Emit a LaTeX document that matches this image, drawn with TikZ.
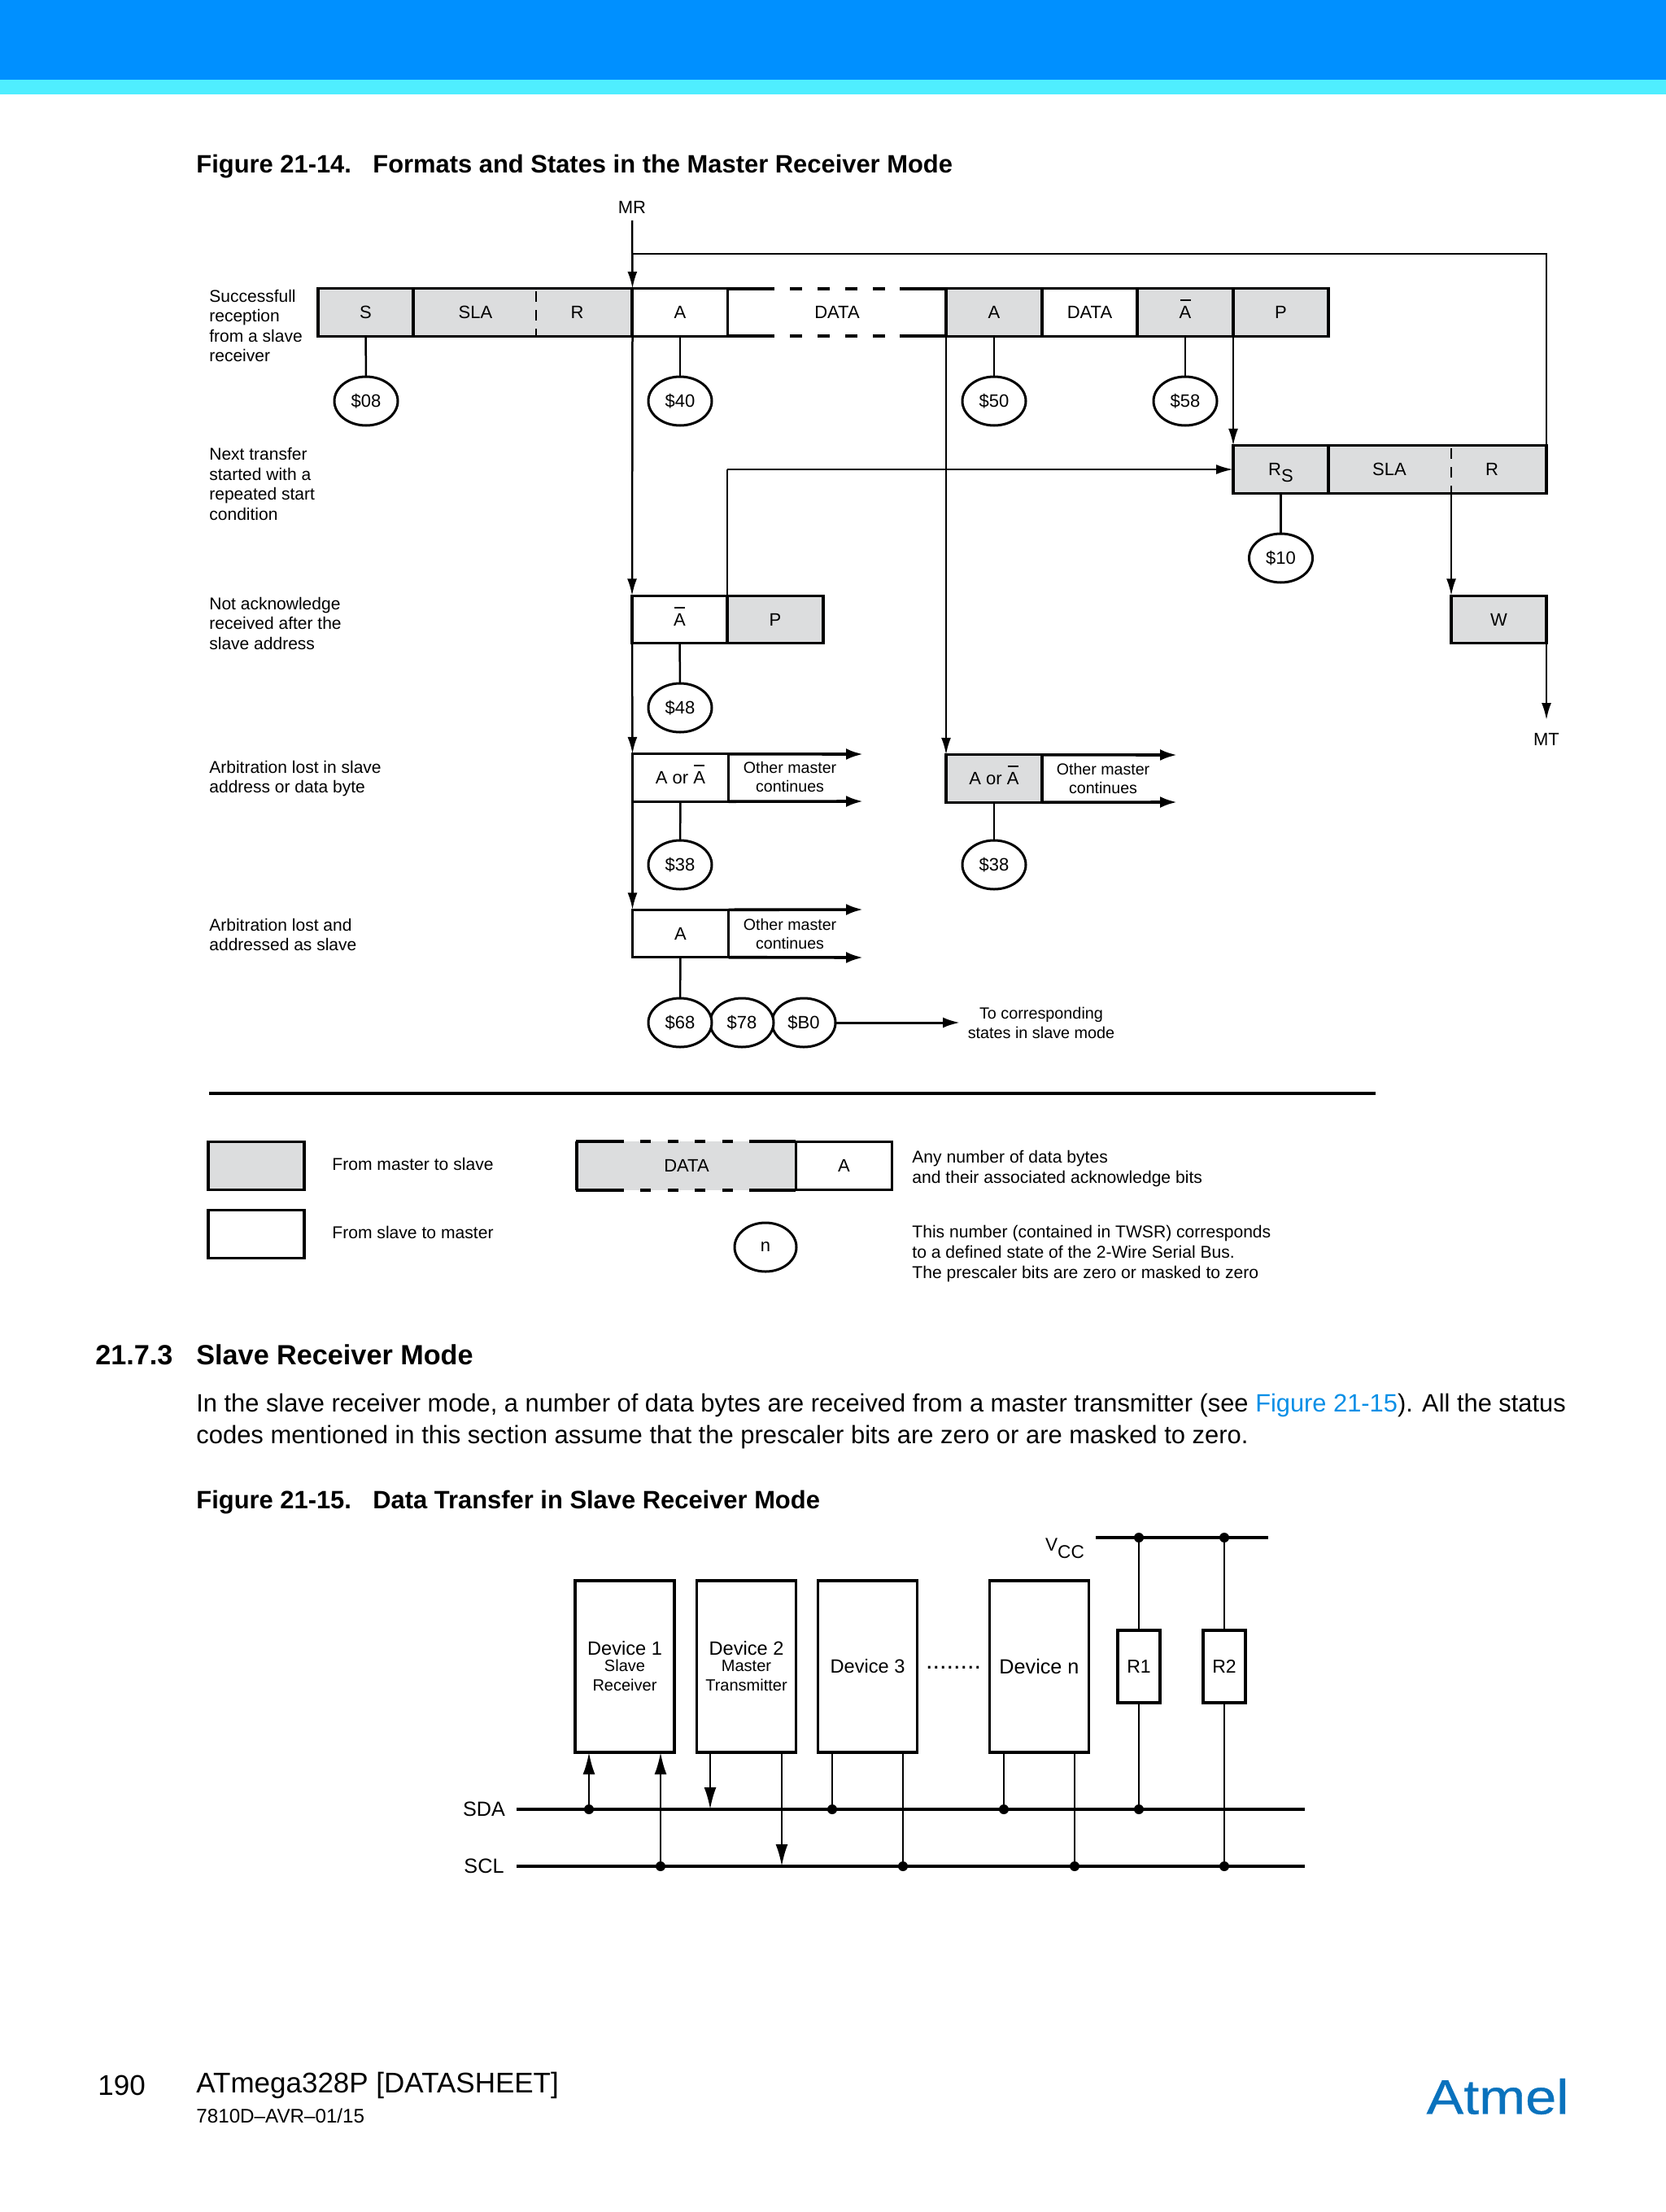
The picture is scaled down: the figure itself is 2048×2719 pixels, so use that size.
\documentclass[tikz,border=0pt]{standalone}
\usepackage{fontspec}
\setmainfont{Liberation Sans}
\newfontfamily\logofont[FakeStretch=1.14,FakeBold=0.6]{Liberation Sans}
\usepackage{tikz}
\usetikzlibrary{arrows.meta,positioning,shapes.geometric}
\definecolor{cellgray}{HTML}{DCDDDE}
\definecolor{bandblue}{HTML}{0090FF}
\definecolor{bandcyan}{HTML}{4FEEFF}
\definecolor{linkblue}{HTML}{0A8FE6}
\definecolor{logoblue}{HTML}{0A72BD}
\newcommand{\abar}{\makebox[0pt][l]{\hspace{.04em}\smash{\rule[.98em]{.6em}{.09em}}}A}
\newcommand{\lowsub}[1]{\smash{\raisebox{-.38em}{#1}}}
\tikzset{
  boxfont/.style={font=\fontsize{11}{13}\selectfont},
  mastercell/.style={draw,fill=cellgray,line width=1.6pt,outer sep=0pt,inner sep=0pt,
    minimum width=#1,minimum height=29.2pt,boxfont},
  slavecell/.style={draw,fill=white,line width=1.6pt,outer sep=0pt,inner sep=0pt,
    minimum width=#1,minimum height=29.2pt,boxfont},
  plaincell/.style={inner sep=0pt,boxfont},
  statebubble/.style={ellipse,draw,fill=white,line width=1.5pt,outer sep=0pt,inner sep=0pt,
    minimum width=39pt,minimum height=30pt,boxfont},
  sidenote/.style={anchor=west,align=left,inner sep=0pt,font=\fontsize{10.5}{12.25}\selectfont},
  othernote/.style={align=center,inner sep=0pt,font=\fontsize{9.8}{11.9}\selectfont},
  conn/.style={line width=1.25pt},
  flow/.style={conn,-{Latex[length=10.5pt,width=6pt]}},
  busflow/.style={conn,-{Latex[length=13.5pt,width=7.5pt]}},
  edgearrow/.style={line width=1.8pt,-{Latex[length=10.5pt,width=7pt]}},
  heavyline/.style={line width=1.8pt},
  devicebox/.style={draw,fill=white,line width=1.6pt,outer sep=0pt,inner sep=0pt,
    minimum width=61pt,minimum height=105.5pt,align=center},
  resbox/.style={draw,fill=white,line width=1.6pt,outer sep=0pt,inner sep=0pt,
    minimum width=26pt,minimum height=44.5pt,font=\fontsize{11.5}{13}\selectfont},
  busdot/.style={circle,fill=black,inner sep=0pt,minimum size=6pt},
  busline/.style={line width=1.6pt},
  pagehead/.style={anchor=base west,inner sep=0pt,font=\fontsize{15.45}{18}\bfseries\selectfont},
  sechead/.style={anchor=base west,inner sep=0pt,font=\fontsize{17.1}{20}\bfseries\selectfont},
  bodytext/.style={anchor=base west,inner sep=0pt,font=\fontsize{15.47}{19}\selectfont},
}
\begin{document}
\begin{tikzpicture}[x=0.5pt,y=-0.5pt]
\useasboundingbox (0,0) rectangle (2048,2719);
%draw page bands
\fill [bandblue] (0,0) rectangle (2048,98);
\fill [bandcyan] (0,98) rectangle (2048,116);
%draw page texts
\draw (241,212) node[pagehead] (capA) {Figure 21-14.};
\draw (458,212) node[pagehead] (capAtext) {Formats and States in the Master Receiver Mode};
\draw (117,1677) node[sechead] (secnum) {21.7.3};
\draw (241,1677) node[sechead] (sectitle) {Slave Receiver Mode};
\draw (241,1735) node[bodytext,font=\fontsize{15.41}{19}\selectfont] (paraA)
  {In the slave receiver mode, a number of data bytes are received from a master transmitter (see \textcolor{linkblue}{Figure 21-15}). All the status};
\draw (241,1774) node[bodytext] (paraB)
  {codes mentioned in this section assume that the prescaler bits are zero or are masked to zero.};
\draw (241,1854) node[pagehead] (capB) {Figure 21-15.};
\draw (458,1854) node[pagehead] (capBtext) {Data Transfer in Slave Receiver Mode};
\draw (120,2563) node[anchor=west,inner sep=0pt,font=\fontsize{17.5}{20}\selectfont] (pagenum) {190};
\draw (241,2563) node[anchor=west,inner sep=0pt,font=\fontsize{17.5}{20}\selectfont] (pagename) {ATmega328P [DATASHEET]};
\draw (241,2601) node[anchor=west,inner sep=0pt,font=\fontsize{12.1}{15}\selectfont] (docnum) {7810D–AVR–01/15};
\draw (1841,2577) node[inner sep=0pt,text=logoblue,font=\logofont\fontsize{30}{36}\selectfont] (logo) {Atmel};
%draw left notes
\draw (257,400.5) node[sidenote] (noteA) {Successfull\\reception\\from a slave\\receiver};
\draw (257,595) node[sidenote] (noteB) {Next transfer\\started with a\\repeated start\\condition};
\draw (257,766) node[sidenote] (noteC) {Not acknowledge\\received after the\\slave address};
\draw (257,957) node[sidenote] (noteD) {Arbitration lost in slave\\address or data byte};
\draw (257,1149) node[sidenote] (noteE) {Arbitration lost and\\addressed as slave};
%draw first row
\draw (449.5,384) node[mastercell=58.5pt] (cellS) {S};
\draw (642.5,384) node[mastercell=134.5pt] (cellSLAR) {};
\draw (584.5,384) node[plaincell] (txtSLA) {SLA};
\draw (709.5,384) node[plaincell] (txtR) {R};
\draw (836,384) node[slavecell=58.5pt] (cellA) {A};
\draw (1029,384) node[plaincell] (txtData) {DATA};
\draw (1222,384) node[mastercell=59pt] (cellAB) {A};
\draw (1339.5,384) node[slavecell=58.5pt] (cellDataB) {DATA};
\draw (1457,384) node[mastercell=59pt] (cellNack) {\abar};
\draw (1574.5,384) node[mastercell=58.5pt] (cellP) {P};
%open data field
\draw [heavyline] (894,355) -- (952,355) (894,413) -- (952,413);
\draw [heavyline] (1106,355) -- (1163,355) (1106,413) -- (1163,413);
\foreach \x in {971, 1005, 1039, 1073}{
   \draw [heavyline] (\x,355) -- (\x+15,355) (\x,413) -- (\x+15,413);
}
%draw second row
\draw (1574.5,577) node[mastercell=58.5pt] (cellRs) {R\lowsub{S}};
\draw (1767,577) node[mastercell=134pt] (cellSLARb) {};
\draw (1708,577) node[plaincell] (txtSLAb) {SLA};
\draw (1834,577) node[plaincell] (txtRb) {R};
\draw (835.5,761.5) node[slavecell=58.5pt] (cellNackB) {\abar};
\draw (953,761.5) node[mastercell=59pt] (cellPb) {P};
\draw (1842.5,761.5) node[mastercell=58.5pt] (cellW) {W};
%dashed splits
\draw [line width=1.3pt,dash pattern=on 6.5pt off 5pt,dash phase=-1pt] (659,356) -- (659,412);
\draw [line width=1.3pt,dash pattern=on 6.5pt off 5pt,dash phase=-1pt] (1784,549) -- (1784,605);
%draw arbitration rows
\draw (836.5,956) node[slavecell=59pt,minimum height=29.2pt] (cellLostA) {A or \abar};
\draw (1222,957) node[mastercell=59pt] (cellLostB) {A or \abar};
\draw (836.5,1147.5) node[slavecell=59pt] (cellLostC) {A};
\draw (971,955) node[othernote] (otherA) {Other master\\continues};
\draw (1356,957) node[othernote] (otherB) {Other master\\continues};
\draw (971,1148) node[othernote] (otherC) {Other master\\continues};
\coordinate (lostAtop) at (1061,927);
\coordinate (lostAbot) at (1061,985);
\draw [edgearrow] (cellLostA.north east) -- (lostAtop);
\draw [edgearrow] (cellLostA.south east) -- (lostAbot);
\draw [edgearrow] (cellLostB.north east) -- (1447,928);
\draw [edgearrow] (cellLostB.south east) -- (1447,986);
\draw [edgearrow] (cellLostC.north east) -- (1061,1118);
\draw [edgearrow] (cellLostC.south east) -- (1061,1177);
%draw state numbers
\draw (450,493) node[statebubble] (st08) {\$08};
\draw (836,493) node[statebubble] (st40) {\$40};
\draw (1222,493) node[statebubble] (st50) {\$50};
\draw (1457,493) node[statebubble] (st58) {\$58};
\draw (1574.5,686) node[statebubble] (st10) {\$10};
\draw (836,870) node[statebubble] (st48) {\$48};
\draw (836,1063) node[statebubble] (st38a) {\$38};
\draw (1222,1063) node[statebubble] (st38b) {\$38};
\draw (988,1257) node[statebubble] (stB0) {\$B0};
\draw (912,1257) node[statebubble] (st78) {\$78};
\draw (836,1257) node[statebubble] (st68) {\$68};
\foreach \a/\b in {cellS/st08, cellA/st40, cellAB/st50, cellNack/st58, cellRs/st10,
  cellNackB/st48, cellLostA/st38a, cellLostB/st38b, cellLostC/st68}{
   \draw [conn] (\a) -- (\b);
}
%draw flow lines
\draw (777,255) node[inner sep=0pt,boxfont] (labelMR) {MR};
\draw (1901,909) node[inner sep=0pt,boxfont] (labelMT) {MT};
\coordinate (mrTop) at (777,271);
\coordinate (mtEnd) at (1901,885);
\coordinate (loopL) at (777,312);
\coordinate (loopR) at (1901,312);
\coordinate (rsBranch) at (894,577);
\draw [flow] (mrTop) -- (cellA.north west);
\draw [conn] (loopL) -- (loopR) -- (cellSLARb.north east);
\draw [flow] (cellA.south west) -- (cellNackB.north west);
\draw [flow] (cellNackB.south west) -- (cellLostA.north west);
\draw [flow] (cellLostA.south west) -- (cellLostC.north west);
\draw [flow] (cellAB.south west) -- (cellLostB.north west);
\draw [flow] (cellNack.south east) -- (cellRs.north west);
\draw [conn] (cellNackB.north east) -- (rsBranch);
\draw [flow] (rsBranch) -- (cellRs.west);
\draw [flow] (1784,606) coordinate (splitS) -- (cellW.north west);
\draw [flow] (cellW.south east) -- (mtEnd);
%draw slave mode note
\draw (1280,1257) node[othernote,font=\fontsize{9.9}{12}\selectfont] (noteSlave) {To corresponding\\states in slave mode};
\coordinate (noteArrow) at (1180,1257);
\draw [line width=1.5pt,-{Latex[length=10.5pt,width=6.5pt]}] (stB0) -- (noteArrow);
%draw separator
\coordinate (sepL) at (257,1344);
\coordinate (sepR) at (1691,1344);
\draw [line width=1.7pt] (sepL) -- (sepR);
%draw legend
\draw (315,1433) node[mastercell=59pt] (keyMaster) {};
\draw (315,1517) node[slavecell=59pt] (keySlave) {};
\draw (408,1431) node[anchor=west,inner sep=0pt,font=\fontsize{10.55}{12}\selectfont] (keyMasterTxt) {From master to slave};
\draw (408,1515) node[anchor=west,inner sep=0pt,font=\fontsize{10.55}{12}\selectfont] (keySlaveTxt) {From slave to master};
\fill [cellgray] (709,1403) rectangle (978,1463);
\draw (844,1433) node[plaincell] (keyData) {DATA};
\draw (1037.5,1433) node[slavecell=59pt] (keyAck) {A};
\draw [line width=1.6pt] (709,1463) -- (709,1403);
\draw [heavyline] (708,1403) -- (767,1403) (708,1463) -- (767,1463);
\draw [heavyline] (921,1403) -- (978,1403) (921,1463) -- (978,1463);
\foreach \x in {787, 821, 854, 888}{
   \draw [heavyline] (\x,1403) -- (\x+13,1403) (\x,1463) -- (\x+13,1463);
}
\draw (941,1533) node[statebubble,minimum width=38pt] (keyState) {\raisebox{-1pt}{n}};
\draw (1121,1436.5) node[sidenote,font=\fontsize{10.55}{12.5}\selectfont] (keyDataTxt) {Any number of data bytes\\and their associated acknowledge bits};
\draw (1121,1541) node[sidenote,font=\fontsize{10.55}{12.5}\selectfont] (keyStateTxt) {This number (contained in TWSR) corresponds\\to a defined state of the 2-Wire Serial Bus.\\The prescaler bits are zero or masked to zero};
%draw bus figure
\draw (768,2048.5) node[devicebox] (devA) {\fontsize{11.8}{13}\selectfont Device 1\\[-2pt]\fontsize{10}{12.5}\selectfont Slave\\\fontsize{10}{12.5}\selectfont Receiver};
\draw (917.5,2048.5) node[devicebox] (devB) {\fontsize{11.8}{13}\selectfont Device 2\\[-2pt]\fontsize{10}{12.5}\selectfont Master\\\fontsize{10}{12.5}\selectfont Transmitter};
\draw (1066.5,2048.5) node[devicebox,font=\fontsize{11.8}{13}\selectfont] (devC) {Device 3};
\draw (1277.5,2048.5) node[devicebox,font=\fontsize{12.6}{13}\selectfont] (devN) {Device n};
\draw (1172,2050) node[inner sep=0pt,font=\fontsize{15.3}{13}\selectfont] (devDots) {........};
\draw (1400,2048.5) node[resbox] (resA) {R1};
\draw (1505,2048.5) node[resbox] (resB) {R2};
\draw (595,2224) node[inner sep=0pt,font=\fontsize{12.6}{14}\selectfont] (labelSDA) {SDA};
\draw (595,2294) node[inner sep=0pt,font=\fontsize{12.6}{14}\selectfont] (labelSCL) {SCL};
\draw (1309,1899) node[inner sep=0pt,font=\fontsize{11.3}{14}\selectfont] (labelVCC) {V\lowsub{CC}};
\coordinate (sdaL) at (635,2224);
\coordinate (sdaR) at (1604,2224);
\coordinate (sclL) at (635,2294);
\coordinate (sclR) at (1604,2294);
\coordinate (vccL) at (1347,1890);
\coordinate (vccR) at (1559,1890);
\draw [busline] (sdaL) -- (sdaR);
\draw [busline] (sclL) -- (sclR);
\draw [busline] (vccL) -- (vccR);
%draw bus dots
\foreach \x/\name in {724/dotAa, 1023/dotCa, 1234/dotNa, 1400/dotRa}{
   \draw (\x,2224) node[busdot] (\name) {};
}
\foreach \x/\name in {812/dotAb, 1110/dotCb, 1321/dotNb, 1505/dotRb}{
   \draw (\x,2294) node[busdot] (\name) {};
}
\draw (1400,1890) node[busdot] (vccA) {};
\draw (1505,1890) node[busdot] (vccB) {};
\coordinate (tapBa) at (873,2224);
\coordinate (tapBb) at (961,2294);
%draw bus connections
\draw [busflow] (dotAa) -- (dotAa |- devA.south);
\draw [busflow] (dotAb) -- (dotAb |- devA.south);
\draw [busflow] (tapBa |- devB.south) -- (tapBa);
\draw [busflow] (tapBb |- devB.south) -- (tapBb);
\draw [conn] (dotCa |- devC.south) -- (dotCa);
\draw [conn] (dotCb |- devC.south) -- (dotCb);
\draw [conn] (dotNa |- devN.south) -- (dotNa);
\draw [conn] (dotNb |- devN.south) -- (dotNb);
\draw [conn] (vccA) -- (resA);
\draw [conn] (vccB) -- (resB);
\draw [conn] (resA) -- (dotRa);
\draw [conn] (resB) -- (dotRb);
\end{tikzpicture}
\end{document}
